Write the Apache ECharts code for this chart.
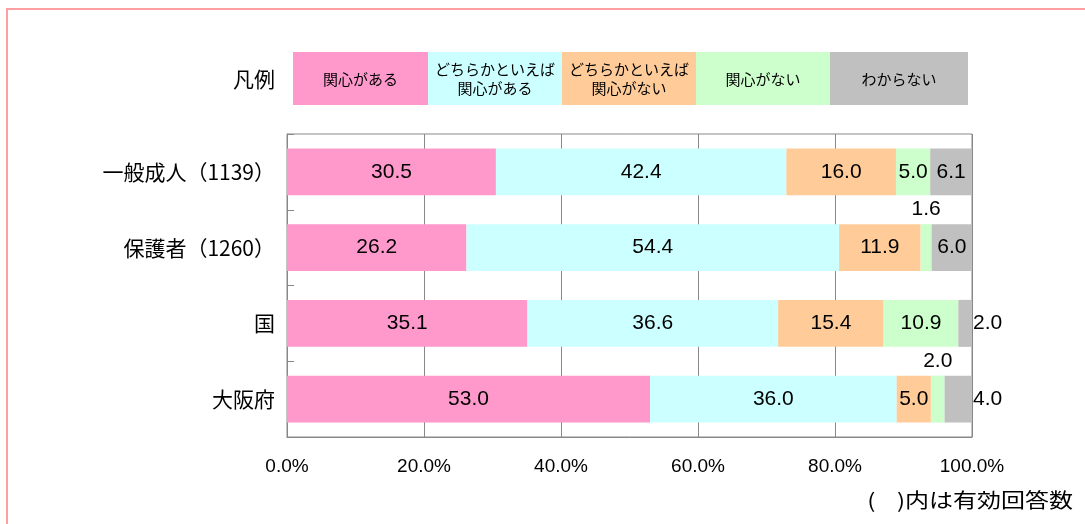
<!DOCTYPE html>
<html><head><meta charset="utf-8">
<script src="https://cdn.jsdelivr.net/npm/echarts@6/dist/echarts.min.js"></script>
<style>html,body{margin:0;padding:0;background:#fff}#c{width:1085px;height:524px}</style>
</head><body><div id="c"></div>
<script>
const categories = ['一般成人（1139）', '保護者（1260）', '国', '大阪府'];
const seriesNames = ['関心がある', 'どちらかといえば\n関心がある', 'どちらかといえば\n関心がない', '関心がない', 'わからない'];
const colors = ['#FF99CC', '#CCFFFF', '#FFCC99', '#CCFFCC', '#C0C0C0'];
const s1 = [30.5, 26.2, 35.1, 53.0];
const s2 = [42.4, 54.4, 36.6, 36.0];
const s3 = [16.0, 11.9, 15.4, 5.0];
const s4 = [5.0, 1.6, 10.9, 2.0];
const s5 = [6.1, 6.0, 2.0, 4.0];
const xTicks = [0, 20, 40, 60, 80, 100];
const values = [s1, s2, s3, s4, s5];
// label placement overrides: [seriesIndex, categoryIndex, position]
const outsideLabels = [[3, 1, 'top'], [4, 2, 'right'], [3, 3, 'top'], [4, 3, 'right']];

const numFont = '"Liberation Sans", Arial, sans-serif';
const jpFont = '"Noto Sans CJK JP", sans-serif';

const series = values.map((arr, si) => ({
  name: seriesNames[si],
  type: 'bar',
  stack: 'total',
  barCategoryGap: '38%',
  itemStyle: { color: colors[si] },
  label: {
    show: true, position: 'inside', color: '#000',
    fontFamily: numFont, fontSize: 21,
    formatter: p => p.value.toFixed(1)
  },
  data: arr.map((v, ci) => {
    const o = outsideLabels.find(e => e[0] === si && e[1] === ci);
    if (!o) return v;
    return { value: v, label: { position: o[2], distance: o[2] === 'top' ? 4 : 1 } };
  })
}));

// legend boxes
const legX = [293, 428, 562, 696, 830, 968];
const graphic = [
  { type: 'rect', shape: { x: 7, y: 9, width: 1200, height: 1000 }, style: { fill: 'none', stroke: '#FF9F9F', lineWidth: 2 }, silent: true },
  { type: 'text', x: 254, y: 79, style: { text: '凡例', font: '21px ' + jpFont, fill: '#000', textAlign: 'center', textVerticalAlign: 'middle' } },
  { type: 'text', x: 1073, y: 500, scaleX: 1.2, style: { text: '(    )内は有効回答数', font: '20px ' + jpFont, fill: '#000', textAlign: 'right', textVerticalAlign: 'middle' } }
];
seriesNames.forEach((n, i) => {
  graphic.push({ type: 'rect', shape: { x: legX[i], y: 52, width: legX[i + 1] - legX[i], height: 53 }, style: { fill: colors[i] } });
  graphic.push({ type: 'text', x: (legX[i] + legX[i + 1]) / 2, y: 79, style: { text: n, font: '15px ' + jpFont, fill: '#000', textAlign: 'center', textVerticalAlign: 'middle', lineHeight: 19 } });
});

const chart = echarts.init(document.getElementById('c'));
chart.setOption({
  animation: false,
  grid: { left: 287, right: 113, top: 134, bottom: 87, show: true, borderColor: '#888', borderWidth: 1 },
  xAxis: {
    type: 'value', min: xTicks[0], max: xTicks[xTicks.length - 1], interval: 20,
    axisLine: { show: true, lineStyle: { color: '#888' } },
    axisTick: { show: false },
    splitLine: { show: true, lineStyle: { color: '#888', width: 1 } },
    axisLabel: { color: '#000', fontSize: 19, margin: 20, fontFamily: '"Liberation Sans Narrow", ' + numFont, formatter: v => v.toFixed(1) + '%' }
  },
  yAxis: {
    type: 'category', data: categories, inverse: true,
    axisLine: { show: true, lineStyle: { color: '#888' } },
    axisTick: { show: true, inside: true, length: 7, lineStyle: { color: '#888' } },
    axisLabel: { color: '#000', fontSize: 21, margin: 12, fontFamily: jpFont }
  },
  series: series,
  graphic: graphic
});
</script></body></html>
